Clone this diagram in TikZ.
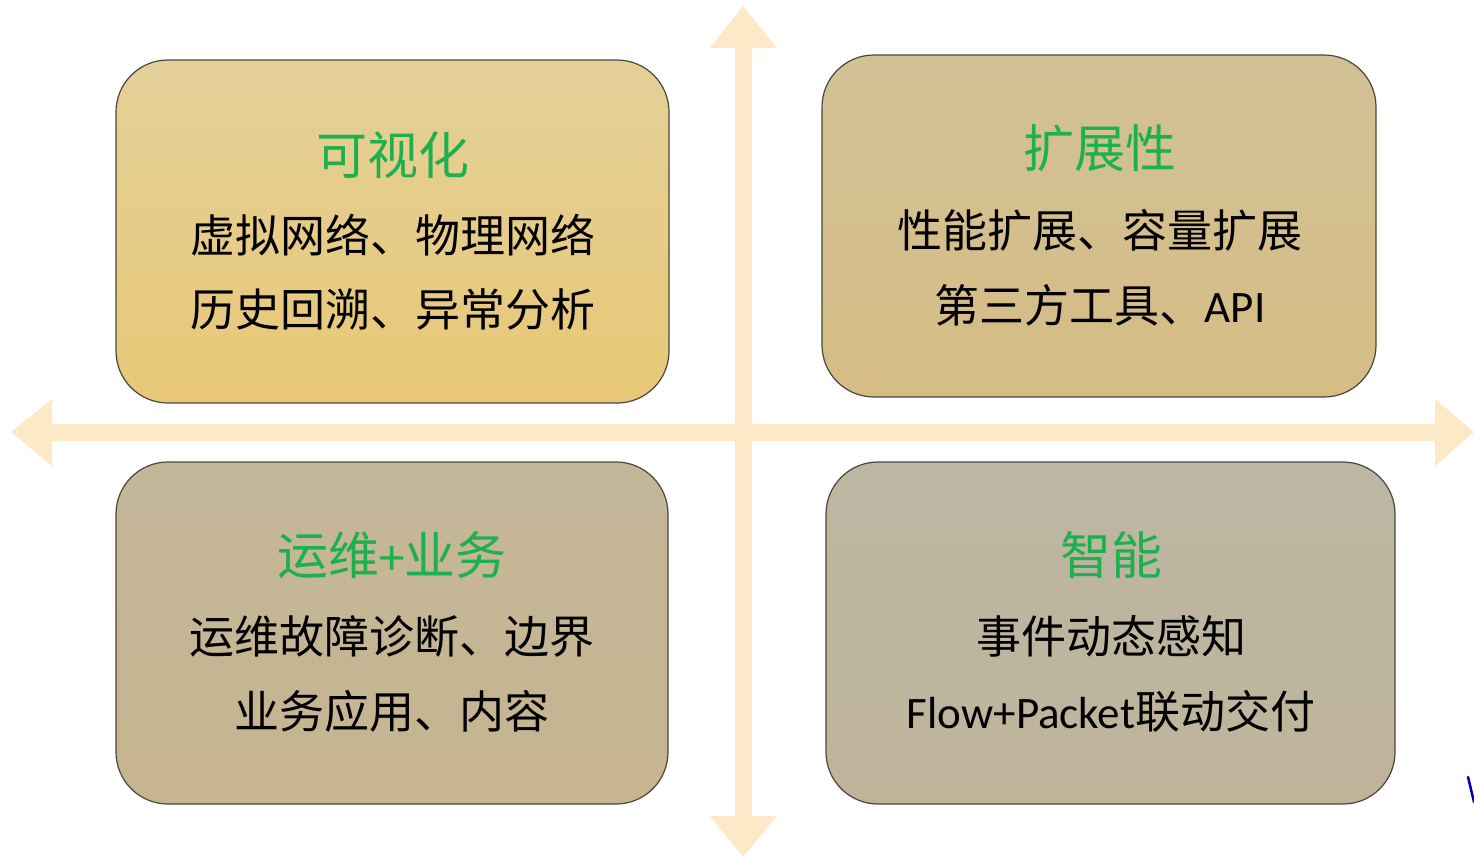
\documentclass[tikz,border=0pt]{standalone}
\usepackage{fontspec}
\newfontfamily\cjk{Noto Sans CJK SC}
\newfontfamily\lat{Carlito}
\definecolor{arrowc}{HTML}{FDE9C8}
\definecolor{titlec}{HTML}{1DB04E}
\definecolor{edgec}{HTML}{4A463A}
\definecolor{tlA}{HTML}{E4D098}
\definecolor{tlB}{HTML}{E8C877}
\definecolor{trA}{HTML}{D2C196}
\definecolor{trB}{HTML}{D6BC84}
\definecolor{blA}{HTML}{C4B699}
\definecolor{blB}{HTML}{C6B58F}
\definecolor{brA}{HTML}{BDB6A3}
\definecolor{brB}{HTML}{BFB49A}
\tikzset{
  quad/.style={draw=edgec, line width=1.2pt, rounded corners=52pt},
  ttl/.style={text=titlec, font=\cjk\fontsize{51}{56}\selectfont, inner sep=0pt},
  body/.style={text=black, font=\cjk\fontsize{45}{50}\selectfont, inner sep=0pt},
}
\begin{document}
\begin{tikzpicture}[x=1pt,y=-1pt]
\useasboundingbox (0,0) rectangle (1474,857);
% axes
\fill[arrowc] (11,432) -- (52,399) -- (52,424) -- (1435,424) -- (1435,399) -- (1474,432) -- (1435,466) -- (1435,441) -- (52,441) -- (52,466) -- cycle;
\fill[arrowc] (743,6) -- (777,48) -- (752,48) -- (752,816) -- (777,816) -- (743,857) -- (710,816) -- (735,816) -- (735,48) -- (710,48) -- cycle;
% boxes
\draw[quad, top color=tlA, bottom color=tlB] (116,60) rectangle (669,403);
\draw[quad, top color=trA, bottom color=trB] (822,55) rectangle (1376,397);
\draw[quad, top color=blA, bottom color=blB] (116,462) rectangle (668,804);
\draw[quad, top color=brA, bottom color=brB] (826,462) rectangle (1395,804);
% texts
\node[ttl] (t1) at (393,155) {可视化};
\node[body] (a1) at (393,235) {虚拟网络、物理网络};
\node[body] (b1) at (393,309) {历史回溯、异常分析};
\node[ttl] (t2) at (1100,148) {扩展性};
\node[body] (a2) at (1100,230) {性能扩展、容量扩展};
\node[body] (b2) at (1100,305) {第三方工具、{\lat API}};
\node[ttl] (t3) at (392,555) {运维{\lat +}业务};
\node[body] (a3) at (392,636) {运维故障诊断、边界};
\node[body] (b3) at (392,711) {业务应用、内容};
\node[ttl] (t4) at (1111,555) {智能};
\node[body] (a4) at (1111,636) {事件动态感知};
\node[body] (b4) at (1111,711) {{\lat Flow+Packet}联动交付};
% cut-off fragment at right edge
\draw[blue!70!black, line width=2.5pt, line cap=round] (1468,777) -- (1474,802);
\end{tikzpicture}
\end{document}
